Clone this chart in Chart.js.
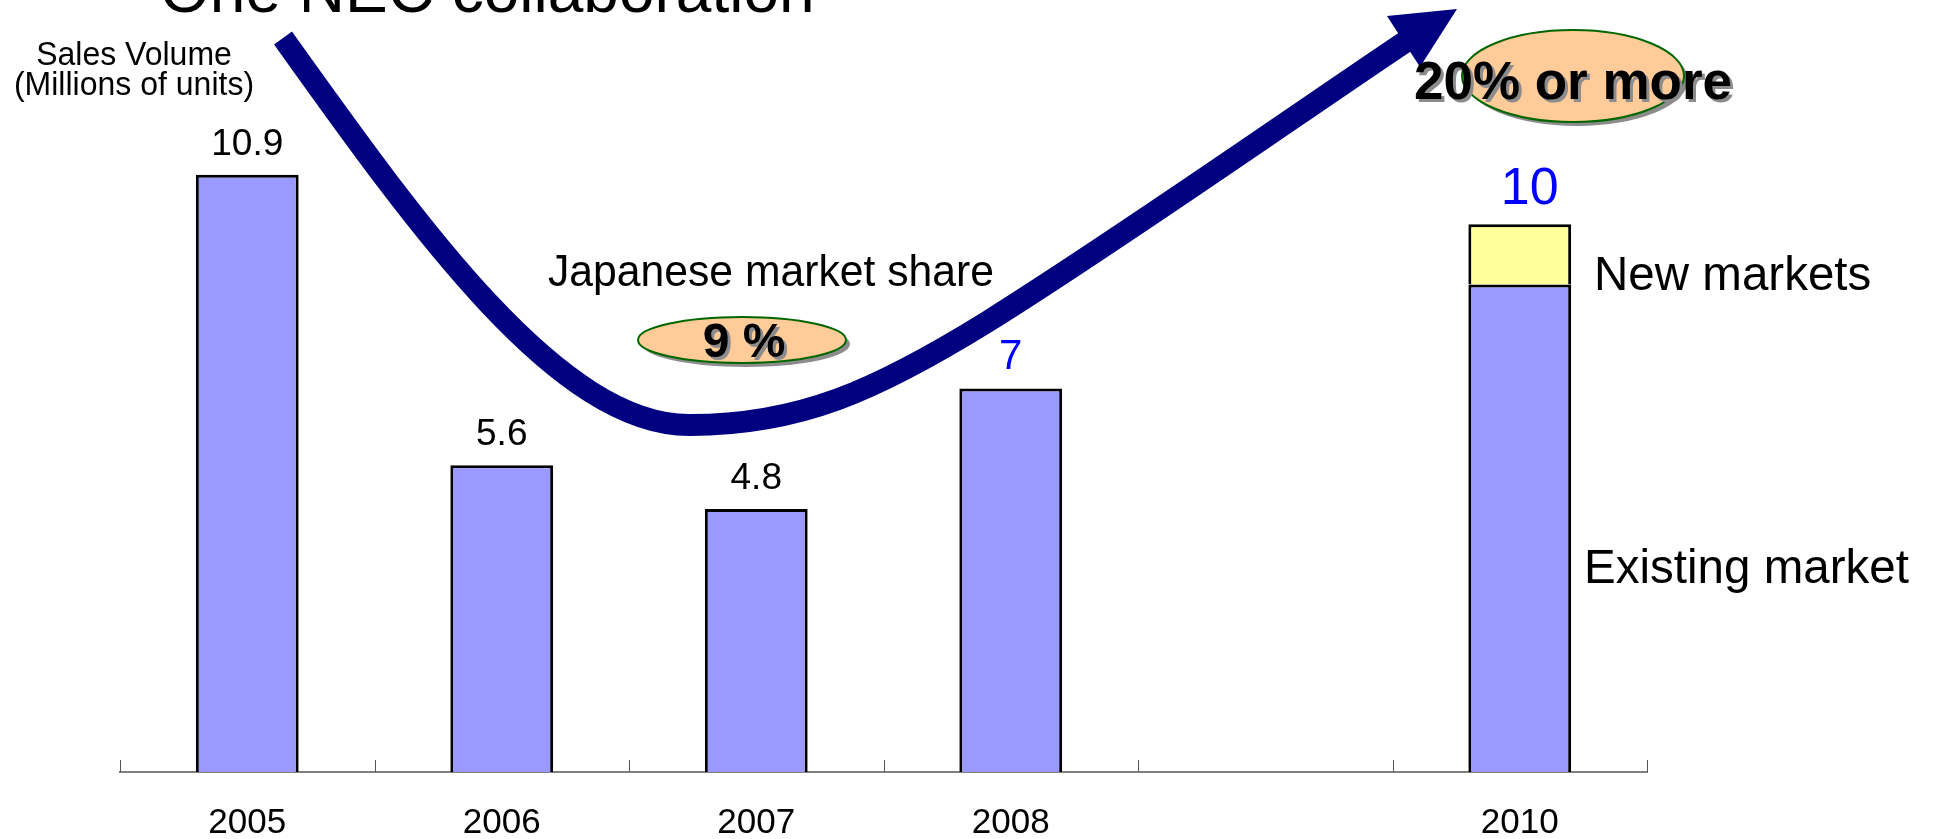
<!DOCTYPE html>
<html><head><meta charset="utf-8">
<script src="https://cdn.jsdelivr.net/npm/chart.js@4.4.1/dist/chart.umd.min.js"></script>
<style>html,body{margin:0;padding:0;background:#fff;overflow:hidden}#wrap{width:1934px;height:839px;position:relative}</style>
</head><body><div id="wrap"><canvas id="c"></canvas></div>
<script>
// ---- data ----
const categories = ['2005', '2006', '2007', '2008', '', '2010'];
const existingMarket = [10.9, 5.6, 4.8, 7, null, 8.9];
const newMarkets = [null, null, null, null, null, 1.1];
const yAxisMax = 14;

// ---- styles ----
const FONT = '"Liberation Sans", Arial, Helvetica, sans-serif';
const labelColors = ['#000000', '#000000', '#000000', '#0000FF', '#000000', '#0000FF'];
const labelSizes = [37, 37, 37, 42, 37, 52];

function drawText(ctx, text, x, y, font, align, color, shadow, sx) {
  ctx.save();
  ctx.font = font; ctx.textAlign = align; ctx.textBaseline = 'alphabetic';
  ctx.translate(x, y); ctx.scale(sx || 1, 1);
  if (shadow) { ctx.fillStyle = '#8c8c8c'; ctx.fillText(text, 3, 3); }
  ctx.fillStyle = color; ctx.fillText(text, 0, 0);
  ctx.restore();
}
function shadowEllipse(ctx, cx, cy, rx, ry) {
  ctx.fillStyle = '#8c8c8c';
  ctx.beginPath(); ctx.ellipse(cx + 4, cy + 4, rx, ry, 0, 0, Math.PI * 2); ctx.fill();
  ctx.fillStyle = '#FFCC99';
  ctx.beginPath(); ctx.ellipse(cx, cy, rx, ry, 0, 0, Math.PI * 2); ctx.fill();
  ctx.strokeStyle = '#006600'; ctx.lineWidth = 2; ctx.stroke();
}

const decor = {
  id: 'decor',
  afterDraw(chart) {
    const ctx = chart.ctx;
    const xs = chart.scales.x, ys = chart.scales.y;
    ctx.save();
    // tick marks above the axis at category boundaries
    const step = xs.getPixelForValue(1) - xs.getPixelForValue(0);
    ctx.strokeStyle = '#555'; ctx.lineWidth = 1;
    for (let i = 0; i <= categories.length; i++) {
      const x = Math.round(xs.getPixelForValue(0) - step / 2 + i * step) + 0.5;
      ctx.beginPath(); ctx.moveTo(x, ys.bottom); ctx.lineTo(x, ys.bottom - 12); ctx.stroke();
    }
    // value labels
    const meta0 = chart.getDatasetMeta(0), meta1 = chart.getDatasetMeta(1);
    categories.forEach((c, i) => {
      const v = existingMarket[i];
      if (v == null) return;
      const extra = newMarkets[i];
      const total = v + (extra || 0);
      const bar = extra != null ? meta1.data[i] : meta0.data[i];
      const txt = String(Math.round(total * 10) / 10);
      const dx = extra != null ? 10 : 0;
      drawText(ctx, txt, bar.x + dx, bar.y - 20, labelSizes[i] + 'px ' + FONT, 'center', labelColors[i], false);
    });
    // big arrow (decoration)
    ctx.strokeStyle = '#000080'; ctx.lineWidth = 22; ctx.lineCap = 'butt'; ctx.lineJoin = 'round';
    ctx.beginPath();
    ctx.moveTo(283, 38);
    ctx.bezierCurveTo(420, 230, 560, 426, 690, 425);
    ctx.bezierCurveTo(800, 425, 877, 390, 987, 322);
    ctx.bezierCurveTo(1117, 241, 1315, 102, 1405, 42);
    ctx.stroke();
    ctx.fillStyle = '#000080';
    ctx.beginPath(); ctx.moveTo(1387, 16); ctx.lineTo(1457, 9); ctx.lineTo(1420, 67); ctx.closePath(); ctx.fill();
    // ellipses
    shadowEllipse(ctx, 742, 340, 104, 23);
    shadowEllipse(ctx, 1573, 76, 111, 46);
    // texts
    drawText(ctx, 'One NEC collaboration', 160, 12, '64px ' + FONT, 'left', '#000', false);
    drawText(ctx, 'Sales Volume', 134, 65, '33px ' + FONT, 'center', '#000', false, 0.97);
    drawText(ctx, '(Millions of units)', 134, 95, '33px ' + FONT, 'center', '#000', false, 0.97);
    drawText(ctx, 'Japanese market share', 771, 286, '44px ' + FONT, 'center', '#000', false, 0.97);
    drawText(ctx, '9 %', 744, 357, 'bold 48px ' + FONT, 'center', '#000', true);
    drawText(ctx, '20% or more', 1573, 99, 'bold 53px ' + FONT, 'center', '#000', true);
    drawText(ctx, 'New markets', 1594, 290, '49px ' + FONT, 'left', '#000', false, 0.97);
    drawText(ctx, 'Existing market', 1584, 583, '49px ' + FONT, 'left', '#000', false, 0.97);
    ctx.restore();
  }
};

new Chart(document.getElementById('c'), {
  type: 'bar',
  data: {
    labels: categories,
    datasets: [
      { label: 'Existing market', data: existingMarket, backgroundColor: '#9999FF', borderColor: '#000000',
        borderWidth: 3, barPercentage: 0.404, categoryPercentage: 1 },
      { label: 'New markets', data: newMarkets, backgroundColor: '#FFFF99', borderColor: '#000000',
        borderWidth: 3, barPercentage: 0.404, categoryPercentage: 1 }
    ]
  },
  options: {
    responsive: true, maintainAspectRatio: false, animation: false,
    layout: { padding: { left: 120, right: 287, top: 5, bottom: 0 } },
    plugins: { legend: { display: false }, tooltip: { enabled: false } },
    scales: {
      x: {
        stacked: true,
        grid: { display: false, drawTicks: false },
        border: { display: true, color: '#808080', width: 2 },
        ticks: { color: '#000', font: { family: FONT, size: 35 }, padding: 30, maxRotation: 0, autoSkip: false },
        afterFit(s) { s.height = 67; }
      },
      y: { stacked: true, display: false, min: 0, max: yAxisMax }
    }
  },
  plugins: [decor]
});
</script></body></html>
